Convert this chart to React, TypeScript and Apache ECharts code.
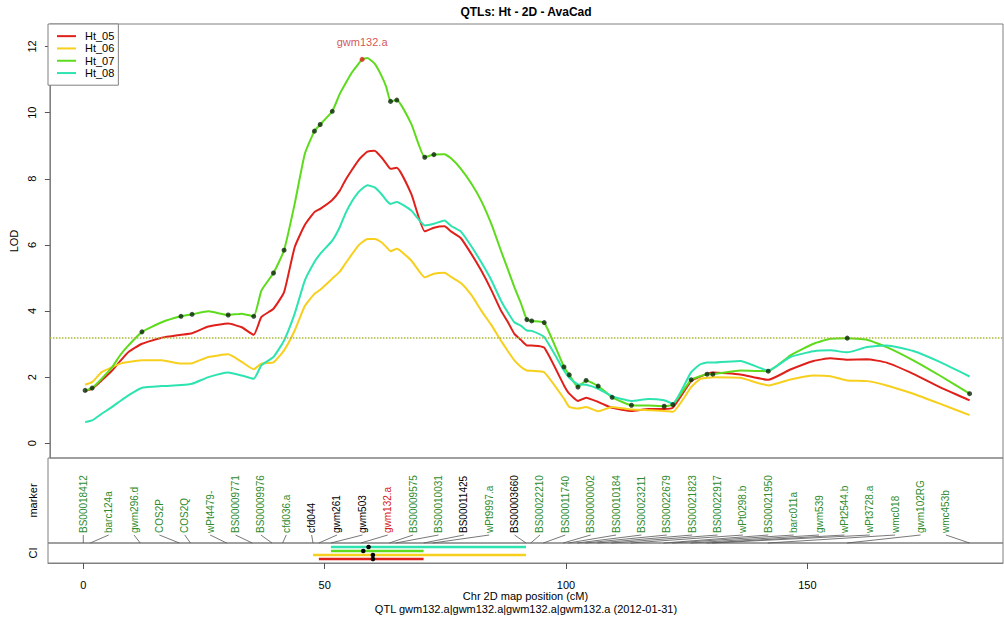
import React, { useEffect, useRef } from "react";
import * as echarts from "echarts";

const FONT = '"Liberation Sans", Arial, Helvetica, sans-serif';

// LOD profile positions (cM)
const POS = [0, 1.45, 3.5, 5.6, 7.3, 9, 11.8, 15.9, 19.9, 22.2, 25.6, 29.7, 32.5, 35, 36.6, 39.1, 41.3, 43.5, 45.6, 47.6, 48.8, 51.3, 52.9, 54, 55.3, 56.7, 57.5, 58.6, 60.1, 61.5, 62.5, 63.4, 64.7, 67.7, 70.5, 72.4, 74.6, 76, 78, 80.2, 82.2, 84.3, 86.3, 87.7, 89.1, 90.5, 91.7, 92.7, 95.3, 99.4, 100.5, 102.3, 104, 106.5, 109.4, 113.4, 117, 120.2, 122, 125.8, 127.7, 129.1, 130.3, 136, 141.8, 146.4, 151.2, 154.7, 158.2, 162.3, 166.4, 171.9, 177.4, 183.6];
const HT_05 = [1.58, 1.65, 1.91, 2.2, 2.49, 2.76, 3.01, 3.19, 3.28, 3.33, 3.53, 3.62, 3.51, 3.28, 3.82, 4.07, 4.57, 5.93, 6.6, 6.99, 7.09, 7.36, 7.65, 7.95, 8.25, 8.55, 8.68, 8.82, 8.85, 8.65, 8.46, 8.3, 8.33, 7.54, 6.41, 6.52, 6.56, 6.4, 6.2, 5.72, 5.23, 4.64, 4.02, 3.68, 3.31, 3.12, 2.96, 2.96, 2.89, 1.75, 1.5, 1.28, 1.38, 1.25, 1.07, 0.98, 1.04, 1.04, 1.08, 1.88, 2.02, 2.1, 2.14, 2.08, 1.92, 2.23, 2.49, 2.57, 2.53, 2.54, 2.44, 2.1, 1.7, 1.3];
const HT_06 = [1.77, 1.85, 2.16, 2.3, 2.41, 2.46, 2.51, 2.51, 2.41, 2.42, 2.61, 2.69, 2.46, 2.24, 2.41, 2.45, 2.81, 3.41, 4.15, 4.52, 4.64, 4.98, 5.2, 5.43, 5.7, 5.98, 6.08, 6.18, 6.18, 6.08, 5.94, 5.81, 5.88, 5.53, 5.02, 5.13, 5.16, 5.03, 4.85, 4.48, 4.02, 3.58, 3.11, 2.8, 2.51, 2.31, 2.2, 2.19, 2.15, 1.35, 1.1, 1.05, 1.1, 0.97, 1.1, 1.02, 1.0, 0.98, 0.95, 1.7, 1.95, 1.98, 2.0, 1.98, 1.75, 1.93, 2.05, 2.03, 1.9, 1.88, 1.75, 1.5, 1.2, 0.85];
const HT_07 = [1.6, 1.67, 1.96, 2.3, 2.67, 2.96, 3.37, 3.66, 3.84, 3.9, 3.99, 3.88, 3.92, 3.84, 4.62, 5.15, 5.84, 7.24, 8.75, 9.44, 9.64, 10.04, 10.58, 10.87, 11.2, 11.47, 11.61, 11.65, 11.48, 11.12, 10.78, 10.34, 10.38, 9.66, 8.65, 8.73, 8.74, 8.61, 8.3, 7.85, 7.34, 6.64, 5.83, 5.28, 4.72, 4.22, 3.74, 3.7, 3.65, 2.31, 2.07, 1.7, 1.9, 1.73, 1.39, 1.15, 1.14, 1.12, 1.17, 1.92, 2.03, 2.09, 2.09, 2.2, 2.18, 2.66, 3.01, 3.16, 3.18, 3.13, 2.91, 2.51, 2.05, 1.5];
const HT_08 = [0.64, 0.69, 0.9, 1.1, 1.28, 1.45, 1.68, 1.73, 1.76, 1.8, 2.0, 2.14, 2.05, 1.95, 2.36, 2.61, 3.11, 3.92, 4.92, 5.48, 5.73, 6.13, 6.55, 6.94, 7.3, 7.59, 7.7, 7.8, 7.74, 7.54, 7.35, 7.24, 7.3, 7.04, 6.59, 6.64, 6.74, 6.57, 6.4, 5.95, 5.48, 4.94, 4.32, 3.97, 3.66, 3.55, 3.41, 3.4, 3.21, 2.2, 1.98, 1.78, 1.77, 1.65, 1.42, 1.28, 1.34, 1.3, 1.2, 2.15, 2.39, 2.44, 2.44, 2.49, 2.2, 2.61, 2.78, 2.81, 2.75, 2.91, 2.96, 2.79, 2.46, 2.02];

const TRAITS = ["Ht_05", "Ht_06", "Ht_07", "Ht_08"];
const TRAIT_VALUES = [HT_05, HT_06, HT_07, HT_08];
const TRAIT_COLORS = ["#e0201a", "#f7cf1d", "#5ddb1c", "#2de3b0"];

const THRESHOLD = 3.18;

// markers
const MARKERS = ["BS00018412", "barc124a", "gwm296.d", "COS2P", "COS2Q", "wPt4479-", "BS00009771", "BS00009976", "cfd036.a", "cfd044", "gwm261", "gwm503", "gwm132.a", "BS00009575", "BS00010031", "BS00011425", "wPt9997.a", "BS00003660", "BS00022210", "BS00011740", "BS00000002", "BS00010184", "BS00023211", "BS00022679", "BS00021823", "BS00022917", "wPt0298.b", "BS00021950", "barc011a", "gwm539", "wPt2544.b", "wPt3728.a", "wmc018", "gwm102RG", "wmc453b"];
const MARKER_POS = [0, 1.45, 11.8, 19.9, 22.2, 29.7, 35, 39.1, 41.3, 47.6, 48.8, 51.3, 57.5, 63.4, 64.7, 70.5, 72.4, 91.7, 92.7, 95.3, 99.4, 100.5, 102.3, 104, 106.5, 109.4, 113.4, 120.2, 122, 125.8, 129.1, 130.3, 141.8, 158.2, 183.6];
const MARKER_LOD = [1.6, 1.67, 3.37, 3.84, 3.9, 3.88, 3.84, 5.15, 5.84, 9.44, 9.64, 10.04, 11.61, 10.34, 10.38, 8.65, 8.73, 3.74, 3.7, 3.65, 2.31, 2.07, 1.7, 1.9, 1.73, 1.39, 1.15, 1.12, 1.17, 1.92, 2.09, 2.09, 2.18, 3.18, 1.5];
const MARKER_KIND = ["g", "g", "g", "g", "g", "g", "g", "g", "g", "b", "b", "b", "r", "g", "g", "b", "g", "b", "g", "g", "g", "g", "g", "g", "g", "g", "g", "g", "g", "g", "g", "g", "g", "g", "g"];
const PEAK_MARKER = "gwm132.a";
const LABEL_START = 0;
const LABEL_END = 178.7;

// confidence intervals (rows top to bottom)
const CI_TRAITS = ["Ht_08", "Ht_07", "Ht_06", "Ht_05"];
const CI_START = [51.3, 51.3, 47.6, 48.8];
const CI_END = [91.7, 70.5, 91.7, 70.5];
const CI_PEAK = [59.1, 58.0, 60.0, 60.0];

const X_TICKS = [0, 50, 100, 150];
const Y_TICKS = [0, 2, 4, 6, 8, 10, 12];
const X_MIN = -7.31;
const X_MAX = 190.53;
const Y_MIN = -0.445;
const Y_MAX = 12.68;

const TITLE = "QTLs: Ht - 2D - AvaCad";
const SUBTITLE = "QTL gwm132.a|gwm132.a|gwm132.a|gwm132.a (2012-01-31)";
const X_NAME = "Chr 2D map position (cM)";

const KIND_COLOR: Record<string, string> = { g: "#2e8b2e", b: "#000000", r: "#d42020" };

export default function App() {
  const ref = useRef<HTMLDivElement>(null);
  useEffect(() => {
    if (!ref.current) return;
    const chart = echarts.init(ref.current, undefined, { renderer: "svg" });
    const n = MARKERS.length;
    const labelPos = MARKERS.map((_, i) => LABEL_START + (i * (LABEL_END - LABEL_START)) / (n - 1));
    const peakIdx = MARKERS.indexOf(PEAK_MARKER);
    const axisName = { fontSize: 11, color: "#000", fontFamily: FONT };
    const hiddenLine = { show: false, onZero: false };
    const edgeLine = { show: true, onZero: false, lineStyle: { color: "#808080", width: 1 } };

    const lineSeries: any[] = TRAITS.map((t, k) => ({
      name: t,
      type: "line",
      xAxisIndex: 0,
      yAxisIndex: 0,
      data: POS.map((x, i) => [x, TRAIT_VALUES[k][i]]),
      showSymbol: false,
      symbol: "none",
      smooth: 0.15,
      lineStyle: { width: 2, color: TRAIT_COLORS[k] },
      itemStyle: { color: TRAIT_COLORS[k] },
      z: 2,
      ...(k === 0
        ? {
            markLine: {
              silent: true,
              symbol: ["none", "none"],
              label: { show: false },
              lineStyle: { type: "dotted", color: "#a9b634", width: 1.5 },
              data: [{ yAxis: THRESHOLD }],
            },
          }
        : {}),
    }));

    const option: any = {
      animation: false,
      textStyle: { fontFamily: FONT },
      grid: [
        { left: 48, top: 24, width: 955, height: 434, show: true, borderColor: "#808080", borderWidth: 1 },
        { left: 48, top: 458, width: 955, height: 85, show: true, borderColor: "#808080", borderWidth: 1 },
        { left: 48, top: 543, width: 955, height: 20, show: true, borderColor: "#808080", borderWidth: 1 },
      ],
      xAxis: [
        { type: "value", gridIndex: 0, min: X_MIN, max: X_MAX, show: false, axisLine: hiddenLine },
        { type: "value", gridIndex: 1, min: X_MIN, max: X_MAX, show: false, axisLine: hiddenLine },
        {
          type: "value",
          gridIndex: 2,
          min: X_MIN,
          max: X_MAX,
          position: "bottom",
          axisLine: edgeLine,
          splitLine: { show: false },
          axisTick: { show: true, customValues: X_TICKS, length: 6, lineStyle: { color: "#555", width: 1 } },
          axisLabel: { customValues: X_TICKS, fontSize: 11, color: "#000", margin: 16, fontFamily: FONT },
          name: X_NAME,
          nameLocation: "middle",
          nameGap: 27,
          nameTextStyle: axisName,
        },
      ],
      yAxis: [
        {
          type: "value",
          gridIndex: 0,
          min: Y_MIN,
          max: Y_MAX,
          position: "left",
          splitLine: { show: false },
          axisLine: edgeLine,
          axisTick: { show: true, customValues: Y_TICKS, length: 5, lineStyle: { color: "#555", width: 1 } },
          axisLabel: { customValues: Y_TICKS, rotate: 90, fontSize: 11, color: "#000", margin: 12, fontFamily: FONT },
          name: "LOD",
          nameLocation: "middle",
          nameGap: 19,
          nameRotate: 90,
          nameTextStyle: axisName,
        },
        {
          type: "value",
          gridIndex: 1,
          min: 0,
          max: 1,
          position: "left",
          axisLine: hiddenLine,
          axisTick: { show: false },
          axisLabel: { show: false },
          splitLine: { show: false },
          name: "marker",
          nameLocation: "middle",
          nameGap: 10,
          nameRotate: 90,
          nameTextStyle: axisName,
        },
        {
          type: "value",
          gridIndex: 2,
          min: 0,
          max: 5,
          inverse: true,
          position: "left",
          axisLine: hiddenLine,
          axisTick: { show: false },
          axisLabel: { show: false },
          splitLine: { show: false },
          name: "CI",
          nameLocation: "middle",
          nameGap: 10,
          nameRotate: 90,
          nameTextStyle: axisName,
        },
      ],
      legend: {
        data: TRAITS,
        orient: "vertical",
        left: 48,
        top: 24,
        padding: [6, 4, 6, 9],
        itemGap: 0,
        itemWidth: 19,
        itemHeight: 2,
        icon: "rect",
        borderColor: "#808080",
        borderWidth: 1,
        backgroundColor: "#fff",
        selectedMode: false,
        textStyle: { fontSize: 11, color: "#000", lineHeight: 12.3, padding: [0, 0, 0, 4], fontFamily: FONT },
      },
      graphic: [
        {
          type: "text",
          x: 526,
          y: 12,
          style: { text: TITLE, align: "center", verticalAlign: "middle", font: `bold 12px ${FONT}`, fill: "#000" },
        },
        {
          type: "text",
          x: 526,
          y: 609,
          style: { text: SUBTITLE, align: "center", verticalAlign: "middle", font: `11px ${FONT}`, fill: "#000" },
        },
      ],
      series: [
        ...lineSeries,
        {
          name: "markers",
          type: "scatter",
          xAxisIndex: 0,
          yAxisIndex: 0,
          data: MARKER_POS.map((x, i) => [x, MARKER_LOD[i]]).filter((_, i) => i !== peakIdx),
          symbolSize: 5,
          itemStyle: { color: "#0b260b" },
          z: 5,
          silent: true,
        },
        {
          name: "peak",
          type: "scatter",
          xAxisIndex: 0,
          yAxisIndex: 0,
          data: [{ value: [MARKER_POS[peakIdx], MARKER_LOD[peakIdx]], name: PEAK_MARKER }],
          symbolSize: 5,
          itemStyle: { color: "#e0201a" },
          label: { show: true, position: "top", distance: 9, formatter: "{b}", color: "#cc2828", fontSize: 11, fontFamily: FONT },
          z: 6,
          silent: true,
        },
        {
          name: "markerLabels",
          type: "custom",
          xAxisIndex: 1,
          yAxisIndex: 1,
          clip: false,
          silent: true,
          data: MARKERS.map((_, i) => [labelPos[i], MARKER_POS[i], i]),
          renderItem: (params: any, api: any) => {
            const i = api.value(2);
            const lab = api.coord([api.value(0), 0]);
            const mk = api.coord([api.value(1), 0]);
            return {
              type: "group",
              children: [
                {
                  type: "line",
                  shape: { x1: lab[0], y1: lab[1] - 8, x2: mk[0], y2: mk[1] },
                  style: { stroke: "#555", lineWidth: 0.8 },
                },
                {
                  type: "text",
                  x: lab[0],
                  y: lab[1] - 10,
                  rotation: Math.PI / 2,
                  style: {
                    text: MARKERS[i],
                    fill: KIND_COLOR[MARKER_KIND[i]],
                    font: `10px ${FONT}`,
                    align: "left",
                    verticalAlign: "middle",
                  },
                },
              ],
            };
          },
        },
        {
          name: "ci",
          type: "custom",
          xAxisIndex: 2,
          yAxisIndex: 2,
          clip: false,
          silent: true,
          data: CI_TRAITS.map((t, r) => [CI_START[r], CI_END[r], r + 1, CI_PEAK[r], TRAITS.indexOf(t)]),
          renderItem: (params: any, api: any) => {
            const row = api.value(2);
            const p1 = api.coord([api.value(0), row]);
            const p2 = api.coord([api.value(1), row]);
            const pk = api.coord([api.value(3), row]);
            const color = TRAIT_COLORS[api.value(4)];
            return {
              type: "group",
              children: [
                { type: "line", shape: { x1: p1[0], y1: p1[1], x2: p2[0], y2: p2[1] }, style: { stroke: color, lineWidth: 2.5 } },
                { type: "circle", shape: { cx: pk[0], cy: pk[1], r: 2.3 }, style: { fill: "#000" } },
              ],
            };
          },
        },
      ],
    };
    chart.setOption(option);
    return () => chart.dispose();
  }, []);
  return <div ref={ref} style={{ position: "absolute", left: 0, top: 0, width: 1004, height: 617 }} />;
}
